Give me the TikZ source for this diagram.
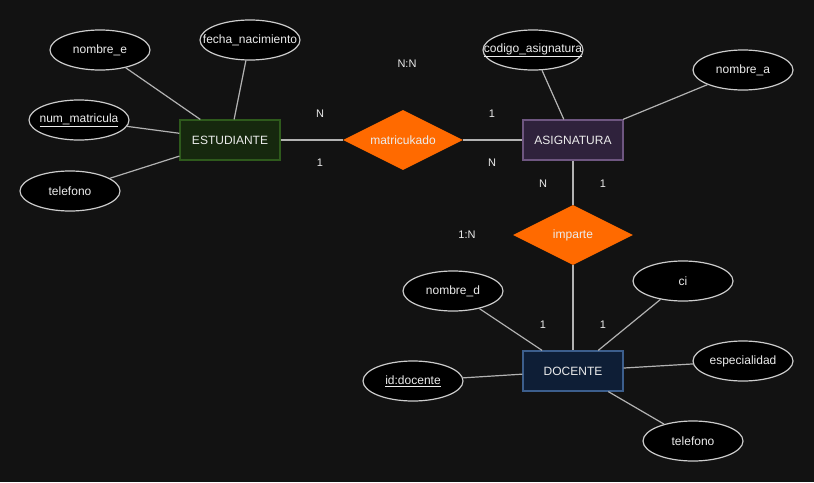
\documentclass[tikz,border=0pt]{standalone}
\usepackage{fontspec}
\setmainfont{Liberation Sans}
\usetikzlibrary{shapes.geometric}
\definecolor{bg}{RGB}{18,18,18}
\definecolor{txt}{RGB}{236,236,236}
\definecolor{edgec}{RGB}{178,178,178}
\definecolor{ellb}{RGB}{205,205,205}
\definecolor{orng}{RGB}{255,106,0}
\definecolor{grfill}{RGB}{22,40,14}
\definecolor{grbord}{RGB}{46,90,28}
\definecolor{pufill}{RGB}{47,34,60}
\definecolor{pubord}{RGB}{110,86,128}
\definecolor{blfill}{RGB}{14,30,54}
\definecolor{blbord}{RGB}{60,94,140}
\newcommand{\ztext}[1]{\makebox[0pt][c]{#1}}
\tikzset{
  entity/.style={rectangle, minimum width=100pt, minimum height=40pt, inner sep=0pt, line width=1.2pt, text=txt, font=\fontsize{12}{14}\selectfont},
  attr/.style={ellipse, draw=ellb, fill=black, line width=1.2pt, minimum width=100pt, minimum height=40pt, inner sep=0pt, text=txt, font=\fontsize{12}{14}\selectfont},
  rel/.style={diamond, fill=orng, minimum width=120pt, minimum height=60pt, aspect=2, inner sep=0pt, text=txt, font=\fontsize{12}{14}\selectfont},
  lbl/.style={text=txt, inner sep=0pt, font=\fontsize{11}{13}\selectfont},
  conn/.style={draw=edgec, line width=1.2pt}
}
\begin{document}
\begin{tikzpicture}[x=1pt,y=-1pt]
\fill[bg] (0,0) rectangle (814,482);
\useasboundingbox (0,0) rectangle (814,482);

% entities
\node[entity, fill=grfill, draw=grbord] (est) at (230,140) {ESTUDIANTE};
\node[entity, fill=pufill, draw=pubord] (asig) at (573,140) {ASIGNATURA};
\node[entity, fill=blfill, draw=blbord] (doc) at (573,371) {DOCENTE};

% relationships
\node[rel] (mat) at (403,140) {matricukado};
\node[rel] (imp) at (573,235) {imparte};

% attributes
\node[attr] (nome) at (100,50) {\ztext{nombre\_e}};
\node[attr] (fecha) at (250,40) {\ztext{fecha\_nacimiento}};
\node[attr] (nummat) at (79,120) {\ztext{\underline{num\_matricula}}};
\node[attr] (tel1) at (70,191) {\ztext{telefono}};
\node[attr] (cod) at (533,50) {\ztext{\underline{codigo\_asignatura}}};
\node[attr] (noma) at (743,70) {\ztext{nombre\_a}};
\node[attr] (nomd) at (453,291) {\ztext{nombre\_d}};
\node[attr] (ci) at (683,281) {\ztext{ci}};
\node[attr] (esp) at (743,361) {\ztext{especialidad}};
\node[attr] (iddoc) at (413,381) {\ztext{\underline{id:docente}}};
\node[attr] (tel2) at (693,441) {\ztext{telefono}};

% connectors
\draw[conn] (nome) -- (est);
\draw[conn] (fecha) -- (est);
\draw[conn] (nummat) -- (est);
\draw[conn] (tel1) -- (est);
\draw[conn] (est) -- (mat);
\draw[conn] (mat) -- (asig);
\draw[conn] (cod) -- (asig);
\draw[conn] (noma) -- (asig);
\draw[conn] (asig) -- (imp);
\draw[conn] (imp) -- (doc);
\draw[conn] (nomd) -- (doc);
\draw[conn] (ci) -- (doc);
\draw[conn] (esp) -- (doc);
\draw[conn] (iddoc) -- (doc);
\draw[conn] (tel2) -- (doc);

% cardinality labels
\node[lbl] (lnn) at (407,64) {N:N};
\node[lbl] (l1) at (320,114) {N};
\node[lbl] (l2) at (320,163) {1};
\node[lbl] (l3) at (492,114) {1};
\node[lbl] (l4) at (492,163) {N};
\node[lbl] (l5) at (543,184) {N};
\node[lbl] (l6) at (603,184) {1};
\node[lbl] (l1n) at (467,235) {1:N};
\node[lbl] (l7) at (543,325) {1};
\node[lbl] (l8) at (603,325) {1};
\end{tikzpicture}
\end{document}
